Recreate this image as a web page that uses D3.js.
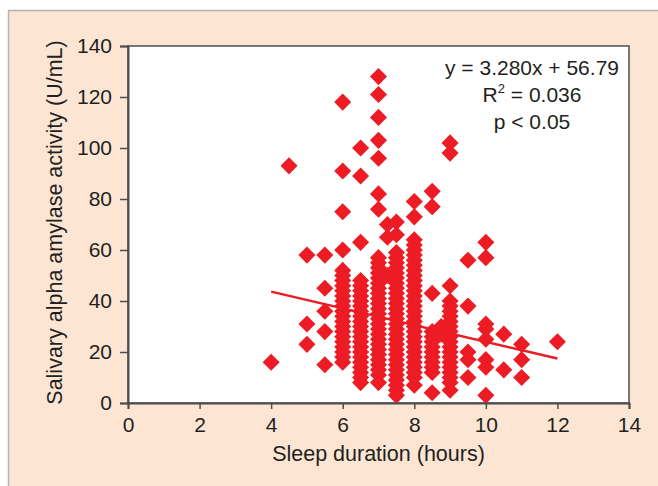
<!DOCTYPE html>
<html>
<head>
<meta charset="utf-8">
<script src="https://cdn.jsdelivr.net/npm/d3@7"></script>
<style>
    body { margin: 0; background: #fff; }
    text { font-family: "Liberation Sans", Arial, sans-serif; fill: #231f20; }
</style>
</head>
<body>
<div id="chart"></div>
<script>
var margin = {
    top: 46,
    right: 29,
    bottom: 83,
    left: 128
};

var W = 658,
    H = 486;

// Sleep duration groups (hours) and the amylase values read for each group (U/mL)
var sleepGroups = [4, 4.5, 5, 5.5, 6, 6.5, 7, 7.25, 7.5, 8, 8.5, 8.75, 9, 9.5, 10, 10.5, 11, 12];
var amylaseByGroup = [
    [16],
    [93],
    [58, 31, 23],
    [58, 45, 36, 28, 15],
    [118, 91, 75, 60, 52, 50, 48, 46, 44, 42, 40, 38, 36, 34, 32, 30, 28, 26, 24, 22, 20, 18, 16],
    [100, 89, 63, 48, 46, 44, 42, 40, 38, 36, 34, 32, 30, 28, 26, 24, 22, 20, 18, 16, 14, 12, 10, 8],
    [128, 121, 112, 103, 96, 82, 76, 57, 55, 53, 51, 49, 47, 45, 43, 41, 39, 37, 35, 33, 31, 29, 27, 25, 23, 21, 19, 17, 15, 13, 11, 8],
    [70, 65, 50],
    [71, 66, 59, 57, 55, 53, 51, 49, 47, 45, 43, 41, 39, 37, 35, 33, 31, 29, 27, 25, 23, 21, 19, 17, 15, 13, 11, 9, 7, 5, 3],
    [79, 73, 64, 62, 60, 58, 56, 54, 52, 50, 48, 46, 44, 42, 40, 38, 36, 34, 32, 30, 28, 26, 24, 22, 20, 18, 16, 14, 12, 10, 7],
    [83, 77, 43, 28, 26, 24, 22, 20, 18, 16, 14, 12, 4],
    [30, 27],
    [102, 98, 46, 40, 38, 36, 34, 32, 30, 28, 26, 24, 22, 20, 18, 16, 14, 12, 10, 8, 5],
    [56, 38, 20, 17, 10],
    [63, 57, 31, 29, 25, 17, 14, 3],
    [27, 13],
    [23, 17, 10],
    [24]
];

// Regression line end points
var fitX = [4, 12];
var fitY = [43.67, 17.43];

var equationLines = ["y = 3.280x + 56.79", "R2 = 0.036", "p < 0.05"];

var xTicks = [0, 2, 4, 6, 8, 10, 12, 14];
var yTicks = [0, 20, 40, 60, 80, 100, 120, 140];

var xLabel = "Sleep duration (hours)";
var yLabel = "Salivary alpha amylase activity (U/mL)";

var red = "#ed1c24";

var width = W - margin.left - margin.right,
    height = H - margin.top - margin.bottom;

var svg = d3.select("#chart").append("svg")
    .attr("width", W)
    .attr("height", H);

// Peach frame
svg.append("rect")
    .attr("x", 8.5)
    .attr("y", 10.5)
    .attr("width", W)
    .attr("height", H)
    .attr("fill", "#fde5d4")
    .attr("stroke", "#b3b3b3")
    .attr("stroke-width", 1.5);

var wrapper = svg.append("g")
    .attr("transform", "translate(" + margin.left + "," + margin.top + ")");

wrapper.append("rect")
    .attr("width", width)
    .attr("height", height)
    .attr("fill", "#fff")
    .attr("stroke", "#4d4d4d")
    .attr("stroke-width", 1.5);

var x = d3.scaleLinear()
    .domain([0, 14])
    .range([0, width]);

var y = d3.scaleLinear()
    .domain([0, 140])
    .range([height, 0]);

// flatten the groups into points
var points = [];
sleepGroups.forEach(function (h, i) {
    amylaseByGroup[i].forEach(function (v) {
        points.push({ hours: h, amylase: v });
    });
});

var diamond = d3.symbol().type(d3.symbolSquare).size(146);

wrapper.append("g")
    .selectAll("path")
    .data(points)
    .enter()
    .append("path")
    .attr("d", diamond)
    .attr("transform", function (d) {
        return "translate(" + x(d.hours) + "," + y(d.amylase) + ") rotate(45)";
    })
    .attr("fill", red);

wrapper.append("line")
    .attr("x1", x(fitX[0]))
    .attr("y1", y(fitY[0]))
    .attr("x2", x(fitX[1]))
    .attr("y2", y(fitY[1]))
    .attr("stroke", red)
    .attr("stroke-width", 2.5);

// Axes
var xAxis = d3.axisBottom(x).tickValues(xTicks).tickSize(6).tickPadding(8);
var gX = wrapper.append("g")
    .attr("transform", "translate(0," + height + ")")
    .call(xAxis);

var yAxis = d3.axisLeft(y).tickValues(yTicks).tickSize(8).tickPadding(8);
var gY = wrapper.append("g")
    .call(yAxis);

[gX, gY].forEach(function (g) {
    g.select(".domain").attr("stroke", "#4d4d4d").attr("stroke-width", 2);
    g.selectAll(".tick line").attr("stroke", "#4d4d4d").attr("stroke-width", 1.5);
    g.selectAll(".tick text")
        .style("font-family", "Liberation Sans, Arial, sans-serif")
        .style("font-size", "21px")
        .attr("fill", "#231f20");
});

// Axis titles
svg.append("text")
    .attr("x", margin.left + width / 2)
    .attr("y", 461)
    .attr("text-anchor", "middle")
    .style("font-size", "21.5px")
    .text(xLabel);

svg.append("text")
    .attr("transform", "translate(62," + (margin.top + height / 2 - 2) + ") rotate(-90)")
    .attr("text-anchor", "middle")
    .style("font-size", "21.5px")
    .text(yLabel);

// Regression equation
var eq = svg.append("g");
equationLines.forEach(function (line, i) {
    var t = eq.append("text")
        .attr("x", 532)
        .attr("y", 75 + i * 27)
        .attr("text-anchor", "middle")
        .style("font-size", "21px");
    if (line.indexOf("R2") === 0) {
        t.append("tspan").text("R");
        t.append("tspan").attr("dy", -9).style("font-size", "13px").text("2");
        t.append("tspan").attr("dy", 9).text(line.slice(2));
    } else {
        t.text(line);
    }
});
</script>
</body>
</html>
